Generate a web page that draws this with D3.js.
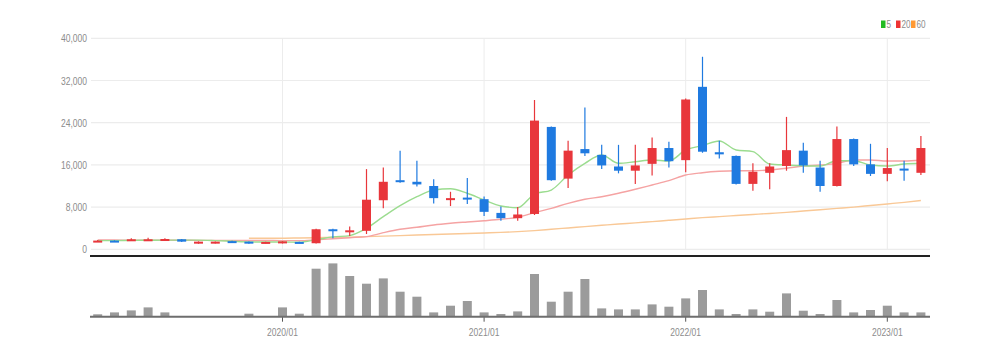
<!DOCTYPE html>
<html><head><meta charset="utf-8">
<script src="https://cdn.jsdelivr.net/npm/d3@7"></script>
<style>
html,body{margin:0;padding:0;background:#fff;}
svg text{font-family:"Liberation Sans Narrow","Liberation Sans",sans-serif;}
</style></head>
<body>
<svg id="chart" width="994" height="356"></svg>
<script>
const months = ["2019/02","2019/03","2019/04","2019/05","2019/06","2019/07","2019/08","2019/09","2019/10","2019/11","2019/12",
"2020/01","2020/02","2020/03","2020/04","2020/05","2020/06","2020/07","2020/08","2020/09","2020/10","2020/11","2020/12",
"2021/01","2021/02","2021/03","2021/04","2021/05","2021/06","2021/07","2021/08","2021/09","2021/10","2021/11","2021/12",
"2022/01","2022/02","2022/03","2022/04","2022/05","2022/06","2022/07","2022/08","2022/09","2022/10","2022/11","2022/12",
"2023/01","2023/02","2023/03"];
const openV  = [1450,1650,1650,1750,1750,1900,1100,1150,1550,1450,1150,1150,1400,1150,3800,3400,3500,9300,13100,12800,12000,9500,9800,9500,6900,5900,6700,23200,13400,19000,17900,15700,14900,16200,19200,16900,30800,18400,17700,12400,14500,15800,18700,15500,12000,20900,16100,14300,15300,14500];
const closeV = [1650,1500,1900,1900,1950,1450,1450,1450,1350,1100,1400,1500,1200,3800,3550,3600,9400,12800,12900,12300,9700,9700,9500,7100,5900,6600,24400,13100,18700,18200,15900,14900,15900,19200,16700,28400,18500,18000,12400,14700,15700,18800,15900,12000,20900,16100,14300,15400,15000,19200];
const highV  = [1750,1700,2100,2200,2100,1950,1500,1500,1600,1500,1450,1550,1450,3900,3900,4300,15200,15500,18700,16800,13300,10900,13500,10000,8100,8000,28300,23300,20600,26900,19800,19800,19800,21200,20400,28600,36500,20600,17800,16300,16300,25100,20200,16800,23300,21000,20000,19200,16800,21500];
const lowV   = [1400,1450,1550,1650,1700,1400,1050,1100,1300,1050,1100,1100,1150,1100,2100,2500,2900,7800,12600,11900,8700,8200,8600,6300,5400,5400,6500,13000,11600,17700,15200,14400,12400,14000,15500,14600,18300,17200,12300,11100,11400,14900,14500,10900,11900,15800,13900,12900,13000,14100];
const ma5  = [1650,1650,1700,1720,1740,1740,1730,1640,1520,1400,1380,1380,1350,1800,2350,2600,3980,6180,8270,9970,11240,11490,10620,9350,8210,7890,10480,11240,14090,16300,17880,16300,16610,16930,16740,18830,19650,20530,18830,18510,16170,15980,15850,15790,16800,16800,15980,15790,16170,16300];
const ma20 = [1750,1750,1740,1740,1730,1720,1700,1690,1680,1670,1660,1650,1650,1800,2000,2200,2400,3150,3790,4170,4610,4930,5180,5420,5690,6070,6940,7770,8720,9480,9970,10620,11380,12190,13010,14090,14520,14790,14900,14900,15040,15360,15790,15980,16300,16930,16930,16740,16740,16930];
const ma60 = [null,null,null,null,null,null,null,null,null,2100,2100,2100,2150,2200,2250,2300,2400,2500,2600,2700,2800,2900,3000,3100,3200,3350,3550,3800,4050,4300,4550,4800,5000,5250,5500,5750,6000,6200,6400,6600,6800,7000,7250,7500,7750,8000,8300,8600,8900,9250];
const volume = [240,430,630,930,430,70,70,70,30,300,30,930,300,4800,5330,4070,3300,3830,2500,2000,430,1100,1570,430,270,530,4270,1500,2500,3770,830,730,730,1230,1000,1830,2670,730,270,730,500,2330,600,270,1670,430,670,1100,430,430].map(v=>v*1000);
const priceTicks = [0,8000,16000,24000,32000,40000];
const yearTicks = ["2020/01","2021/01","2022/01","2023/01"];
const legendItems = [{label:"5",color:"#22bb22"},{label:"20",color:"#ee3333"},{label:"60",color:"#ff9933"}];

const svg = d3.select("#chart");
const x = d3.scaleBand().domain(months).range([89.3, 929.3]).padding(0);
const cx = d => x(d) + x.bandwidth()/2;
const y = d3.scaleLinear().domain([0,40000]).range([249.3, 38.3]);
const yv = d3.scaleLinear().domain([0,6100000]).range([316.7, 255.7]);
const gridL = 91, gridR = 930;
const condense = sel => sel.each(function(){
  const w = this.getComputedTextLength();
  d3.select(this).attr("textLength", w*0.74).attr("lengthAdjust","spacingAndGlyphs");
});

// horizontal grid
svg.append("g").selectAll("line").data(priceTicks).join("line")
  .attr("x1",gridL).attr("x2",gridR).attr("y1",d=>y(d)).attr("y2",d=>y(d))
  .attr("stroke","#ececec").attr("stroke-width",1.2);
// vertical grid
svg.append("g").selectAll("line").data(yearTicks).join("line")
  .attr("x1",d=>cx(d)).attr("x2",d=>cx(d)).attr("y1",y(40000)).attr("y2",y(0))
  .attr("stroke","#ececec").attr("stroke-width",1);

// y axis
const yAxis = svg.append("g").attr("transform",`translate(${gridL},0)`)
  .call(d3.axisLeft(y).tickValues(priceTicks).tickFormat(d3.format(",")).tickSize(0).tickPadding(4));
yAxis.select(".domain").remove();
yAxis.selectAll("text").attr("fill","#8c8c8c").style("font-size","11.5px").call(condense);

// MA lines
const line = d3.line().defined(d=>d.v!=null).x(d=>cx(d.m)).y(d=>y(d.v)).curve(d3.curveMonotoneX);
const maData = [[ma60,"#f9c896"],[ma20,"#f5a3a3"],[ma5,"#9bdc8f"]];
maData.forEach(([arr,col])=>{
  svg.append("path").datum(months.map((m,i)=>({m, v:arr[i]})))
    .attr("d",line).attr("fill","none").attr("stroke",col).attr("stroke-width",1.4);
});

// candles
const red = "#e8363b", blue = "#1f7ae0";
const candles = months.map((m,i)=>({m,o:openV[i],c:closeV[i],h:highV[i],l:lowV[i]}));
const cg = svg.append("g");
cg.selectAll("line").data(candles).join("line")
  .attr("x1",d=>cx(d.m)).attr("x2",d=>cx(d.m)).attr("y1",d=>y(d.h)).attr("y2",d=>y(d.l))
  .attr("stroke",d=>d.c>=d.o?red:blue).attr("stroke-width",1.2);
const bw = 9;
cg.selectAll("rect").data(candles).join("rect")
  .attr("x",d=>cx(d.m)-bw/2).attr("width",bw)
  .attr("y",d=>y(Math.max(d.o,d.c)))
  .attr("height",d=>Math.max(2, Math.abs(y(d.o)-y(d.c))))
  .attr("fill",d=>d.c>=d.o?red:blue);

// separator
svg.append("line").attr("x1",90).attr("x2",gridR).attr("y1",256).attr("y2",256)
  .attr("stroke","#222").attr("stroke-width",2);

// volume bars
svg.append("g").selectAll("rect").data(months.map((m,i)=>({m,v:volume[i]}))).join("rect")
  .attr("x",d=>cx(d.m)-4.5).attr("width",9)
  .attr("y",d=>yv(d.v)).attr("height",d=>yv(0)-yv(d.v))
  .attr("fill","#9b9b9b");

// x axis
const xAxis = svg.append("g").attr("transform",`translate(0,${yv(0)})`)
  .call(d3.axisBottom(x).tickValues(yearTicks).tickSize(5).tickPadding(6));
xAxis.select(".domain").remove();
xAxis.selectAll(".tick line").attr("stroke","#555");
xAxis.selectAll("text").attr("fill","#8c8c8c").style("font-size","11.5px").call(condense);
svg.append("line").attr("x1",90).attr("x2",gridR).attr("y1",yv(0)).attr("y2",yv(0))
  .attr("stroke","#6e6e6e").attr("stroke-width",2);

// legend
const lg = svg.append("g");
const legendX = [881, 896, 911];
legendItems.forEach((it,k)=>{
  const lx = legendX[k];
  lg.append("rect").attr("x",lx).attr("y",20.5).attr("width",4.5).attr("height",7.5).attr("fill",it.color);
  lg.append("text").attr("x",lx+5.5).attr("y",28.2).text(it.label)
    .attr("fill","#8c8c8c").style("font-size","11px").call(condense);
});
</script>
</body></html>
